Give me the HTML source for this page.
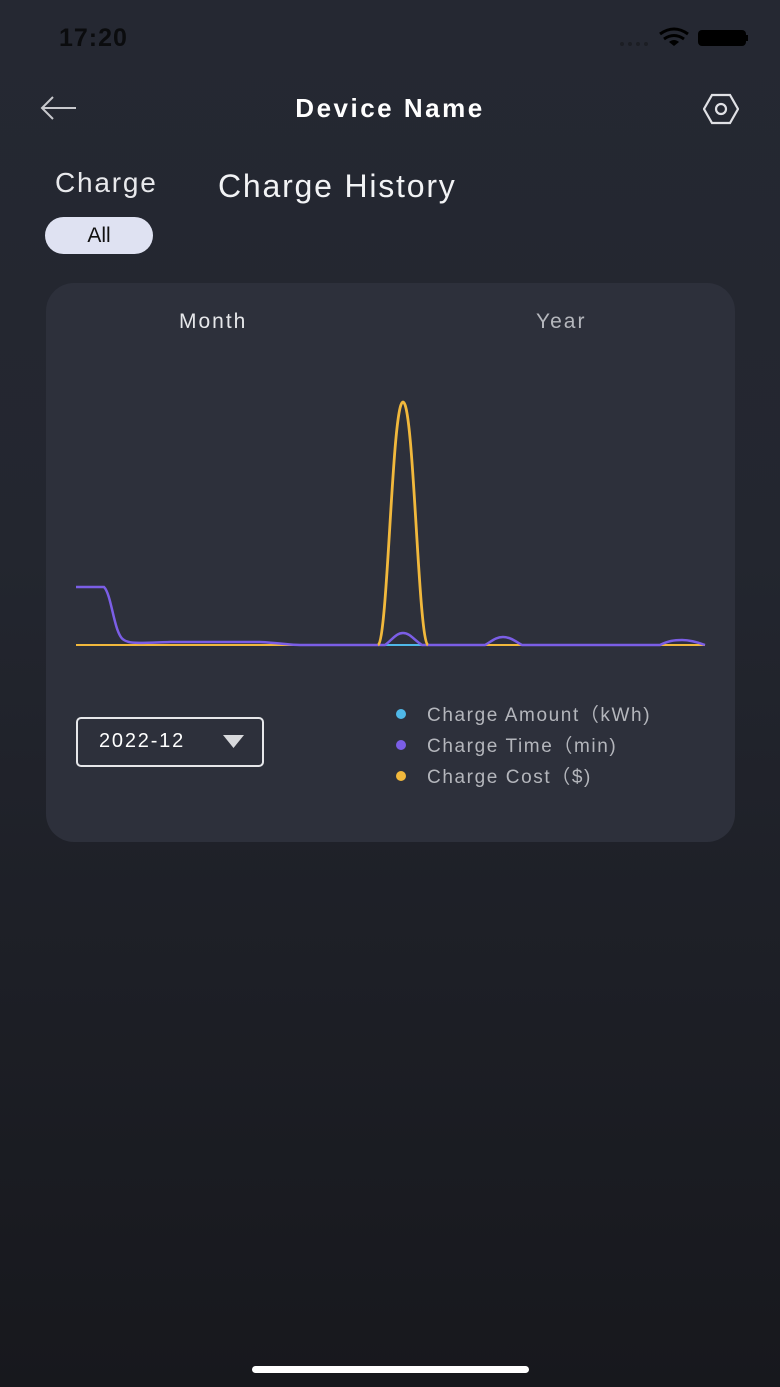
<!DOCTYPE html>
<html><head><meta charset="utf-8"><style>
body{margin:0;width:780px;height:1387px;overflow:hidden;background:linear-gradient(#252832 0%,#23262f 40%,#17181d 100%);font-family:"Liberation Sans",sans-serif;position:relative}
.t{position:absolute;white-space:nowrap}
</style></head><body>
<div class="t" style="left:59px;top:24px;font-size:25px;font-weight:bold;color:#0b0c0e;letter-spacing:1px">17:20</div>
<svg class="t" style="left:610px;top:24px" width="140" height="30">
<g fill="#1c1e24"><circle cx="12" cy="20" r="2"/><circle cx="20" cy="20" r="2"/><circle cx="28" cy="20" r="2"/><circle cx="36" cy="20" r="2"/></g>
<path d="M50 10 Q64 0 78 10" stroke="#000" stroke-width="3" fill="none"/><path d="M54 15 Q64 8 74 15" stroke="#000" stroke-width="3" fill="none"/><path d="M64 22 L59 18 Q64 14 69 18Z" fill="#000"/>
<rect x="88" y="6" width="48" height="16" rx="4" fill="#000"/><rect x="136" y="11" width="2" height="6" fill="#000"/>
</svg>
<svg class="t" style="left:38px;top:94px" width="40" height="28"><path d="M38 14H4M15 3L4 14L15 25" stroke="#c8c9cd" stroke-width="2" fill="none"/></svg>
<div class="t" style="left:0;width:780px;text-align:center;top:93px;font-size:26px;font-weight:bold;color:#fff;letter-spacing:2.5px">Device Name</div>
<svg class="t" style="left:703px;top:93px" width="36" height="32"><path d="M9 2H27L35 16L27 30H9L1 16Z" stroke="#e0e1e5" stroke-width="2.2" fill="none"/><circle cx="18" cy="16" r="5" stroke="#e0e1e5" stroke-width="2.2" fill="none"/></svg>
<div class="t" style="left:55px;top:167px;font-size:28px;color:#e8e9ec;letter-spacing:1.8px">Charge</div>
<div class="t" style="left:218px;top:168px;font-size:32px;color:#f2f3f5;letter-spacing:1.8px">Charge History</div>
<div class="t" style="left:45px;top:217px;width:108px;height:37px;border-radius:19px;background:#dfe2f2;color:#111;font-size:21px;text-align:center;line-height:37px">All</div>
<div class="t" style="left:46px;top:283px;width:689px;height:559px;border-radius:28px;background:#2d303b"></div>
<div class="t" style="left:179px;top:310px;font-size:21px;color:#e6e7ea;letter-spacing:2px">Month</div>
<div class="t" style="left:536px;top:310px;font-size:21px;color:#b5b7bd;letter-spacing:2px">Year</div>
<svg class="t" style="left:0;top:0" width="780" height="800">
<line x1="76" y1="645" x2="705" y2="645" stroke="#f1b83c" stroke-width="2"/>
<line x1="385" y1="645" x2="422" y2="645" stroke="#4fb8e8" stroke-width="2"/>
<path d="M76 587 L104 587 C112 595 114 635 124 640 C130 644 140 643 170 642 L260 642 C280 643 290 645 300 645 L385 645 C392 640 396 633 403 633 C410 633 414 640 422 645 L485 645 C492 641 496 637 503 637 C510 637 515 641 522 645 L660 645 C668 641 674 640 682 640 C690 640 697 642 705 645" stroke="#7b5ee6" stroke-width="2.5" fill="none"/>
<path d="M378 645 C388 640 392 402 403 402 C414 402 418 640 428 645" stroke="#f1b83c" stroke-width="2.8" fill="none"/>
</svg>
<div class="t" style="left:76px;top:717px;width:184px;height:46px;border:2px solid #e6e7ea;border-radius:5px"></div>
<div class="t" style="left:99px;top:730px;font-size:20px;color:#fff;letter-spacing:1.8px">2022-12</div>
<svg class="t" style="left:223px;top:735px" width="22" height="14"><path d="M0 0H21L10.5 13Z" fill="#d8d9dc"/></svg>
<svg class="t" style="left:392px;top:705px" width="20" height="80"><circle cx="9" cy="9" r="5" fill="#4fb8e8"/><circle cx="9" cy="40" r="5" fill="#7b5ee6"/><circle cx="9" cy="71" r="5" fill="#f1b83c"/></svg>
<div class="t" style="left:427px;top:700px;font-size:19px;color:#b4b6bc;letter-spacing:1.6px;line-height:31px">Charge Amount（kWh)<br>Charge Time（min)<br>Charge Cost（$)</div>
<div class="t" style="left:252px;top:1366px;width:277px;height:7px;border-radius:4px;background:#fff"></div>
</body></html>
